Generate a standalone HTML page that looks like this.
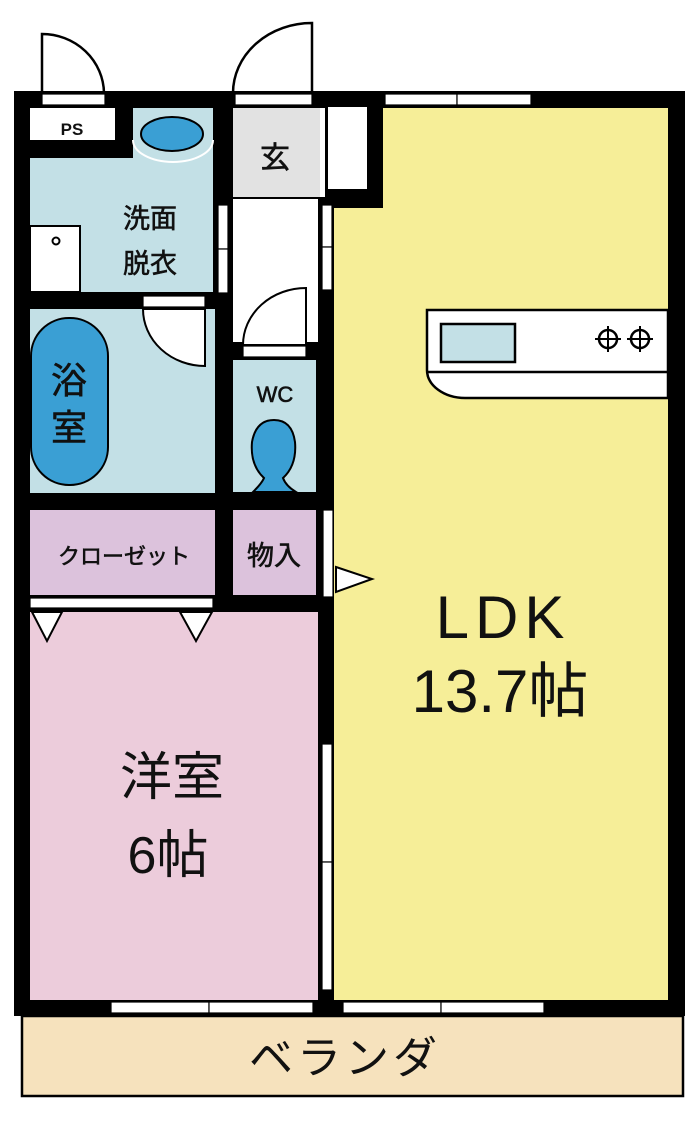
<!DOCTYPE html>
<html><head><meta charset="utf-8"><style>
html,body{margin:0;padding:0;background:#fff;}
svg{display:block;}
text{font-family:"Liberation Sans","Noto Sans CJK JP",sans-serif;fill:#111;}
.s{stroke:#111;stroke-width:0.6;}
</style></head><body>
<svg width="700" height="1132" viewBox="0 0 700 1132" xmlns="http://www.w3.org/2000/svg">
<g fill="#fff" stroke="#000" stroke-width="2.5">
<path d="M42,93 L42,34 A62,60 0 0 1 104,93 Z"/>
<path d="M312,93 L312,23 A79,70 0 0 0 233,93 Z"/>
</g>
<rect x="14" y="91" width="671" height="925" fill="#000"/>
<rect x="22" y="1016" width="661" height="80" fill="#f6e2bd" stroke="#000" stroke-width="2.5"/>
<path d="M383,108 L668,108 L668,1000 L334,1000 L334,208 L383,208 Z" fill="#f6ee98"/>
<rect x="328" y="107" width="39" height="82" fill="#fff"/>
<rect x="233" y="108" width="87" height="89" fill="#e2e2e2"/>
<rect x="320" y="108" width="5" height="89" fill="#fff"/>
<rect x="233" y="199" width="85" height="143" fill="#fff"/>
<rect x="30" y="108" width="85" height="32" fill="#fff"/>
<path d="M133,108 L213,108 L213,292 L30,292 L30,158 L133,158 Z" fill="#c3e0e6"/>
<path d="M133,140 A40,22 0 0 0 213,140" fill="none" stroke="#fff" stroke-width="2"/>
<ellipse cx="172" cy="134" rx="31" ry="17" fill="#3a9fd4" stroke="#000" stroke-width="2"/>
<rect x="30" y="226" width="50" height="66" fill="#fff" stroke="#000" stroke-width="2"/>
<circle cx="56" cy="241" r="3.5" fill="none" stroke="#000" stroke-width="2"/>
<rect x="30" y="309" width="185" height="184" fill="#c3e0e6"/>
<rect x="31" y="318" width="77" height="167" rx="38" fill="#3a9fd4" stroke="#000" stroke-width="2"/>
<path d="M205,309 L205,366 A62,57 0 0 1 143,309 Z" fill="#fff" stroke="#000" stroke-width="2"/>
<rect x="233" y="360" width="83" height="132" fill="#c3e0e6"/>
<path d="M253,492 Q262,483 264,478 Q250,465 252,442 Q256,420 274,420 Q292,420 295,442 Q297,465 283,478 Q286,486 296,492 Z" fill="#3a9fd4" stroke="#000" stroke-width="2"/>
<path d="M306,345 L306,288 A63,57 0 0 0 243,345 Z" fill="#fff" stroke="#000" stroke-width="2"/>
<rect x="30" y="510" width="185" height="85" fill="#dcc2dc"/>
<rect x="233" y="510" width="83" height="85" fill="#dcc2dc"/>
<rect x="30" y="612" width="288" height="388" fill="#ecccdb"/>
<g fill="#fff" stroke="#000" stroke-width="1.2">
<rect x="42" y="94" width="63" height="11"/>
<rect x="235" y="94" width="77" height="11"/>
<rect x="385" y="94" width="72" height="11"/>
<rect x="457" y="94" width="74" height="11"/>
<rect x="143" y="296" width="62" height="11"/>
<rect x="243" y="346" width="63" height="11"/>
<rect x="218" y="205" width="10" height="44"/>
<rect x="218" y="249" width="10" height="44"/>
<rect x="322" y="205" width="10" height="42"/>
<rect x="322" y="247" width="10" height="43"/>
<rect x="323" y="510" width="10" height="87"/>
<rect x="30" y="598" width="183" height="10"/>
<rect x="322" y="744" width="10" height="118"/>
<rect x="322" y="862" width="10" height="128"/>
<rect x="111" y="1002" width="98" height="11"/>
<rect x="209" y="1002" width="104" height="11"/>
<rect x="343" y="1002" width="98" height="11"/>
<rect x="441" y="1002" width="103" height="11"/>
</g>
<g fill="#fff" stroke="#000" stroke-width="2">
<path d="M32,612 L62,612 L47,641 Z"/>
<path d="M180,612 L212,612 L196,641 Z"/>
<path d="M336,567 L372,579 L336,592 Z"/>
</g>
<path d="M427,310 L668,310 L668,398 L465,398 A38,28 0 0 1 427,370 Z" fill="#fff" stroke="#000" stroke-width="2.5"/>
<line x1="427" y1="372" x2="668" y2="372" stroke="#000" stroke-width="2.5"/>
<rect x="441" y="324" width="74" height="38" fill="#c3e0e6" stroke="#000" stroke-width="2.5"/>
<g fill="none" stroke="#000" stroke-width="2.5">
<circle cx="608" cy="339" r="9"/><circle cx="640" cy="339" r="9"/>
<path d="M595,339h26M608,326v26M627,339h26M640,326v26" stroke-width="2"/>
</g>
<text x="72" y="135" font-size="17" text-anchor="middle" font-weight="bold">PS</text>
<text class="s" x="150" y="228" font-size="27" text-anchor="middle">洗面</text>
<text class="s" x="150" y="273" font-size="27" text-anchor="middle">脱衣</text>
<text class="s" x="69" y="393" font-size="36" text-anchor="middle">浴</text>
<text class="s" x="69" y="440" font-size="36" text-anchor="middle">室</text>
<text class="s" x="275" y="168" font-size="30" text-anchor="middle">玄</text>
<text class="s" x="275" y="402" font-size="22" text-anchor="middle">WC</text>
<text class="s" x="124" y="564" font-size="22" text-anchor="middle">クローゼット</text>
<text class="s" x="274" y="565" font-size="27" text-anchor="middle">物入</text>
<text x="503" y="638" font-size="60" text-anchor="middle" letter-spacing="6">LDK</text>
<text x="500" y="712" font-size="60" text-anchor="middle">13.7帖</text>
<text x="172" y="795" font-size="52" text-anchor="middle">洋室</text>
<text x="168" y="873" font-size="52" text-anchor="middle">6帖</text>
<text x="345" y="1073" font-size="44" text-anchor="middle" letter-spacing="4">ベランダ</text>
</svg>
</body></html>
